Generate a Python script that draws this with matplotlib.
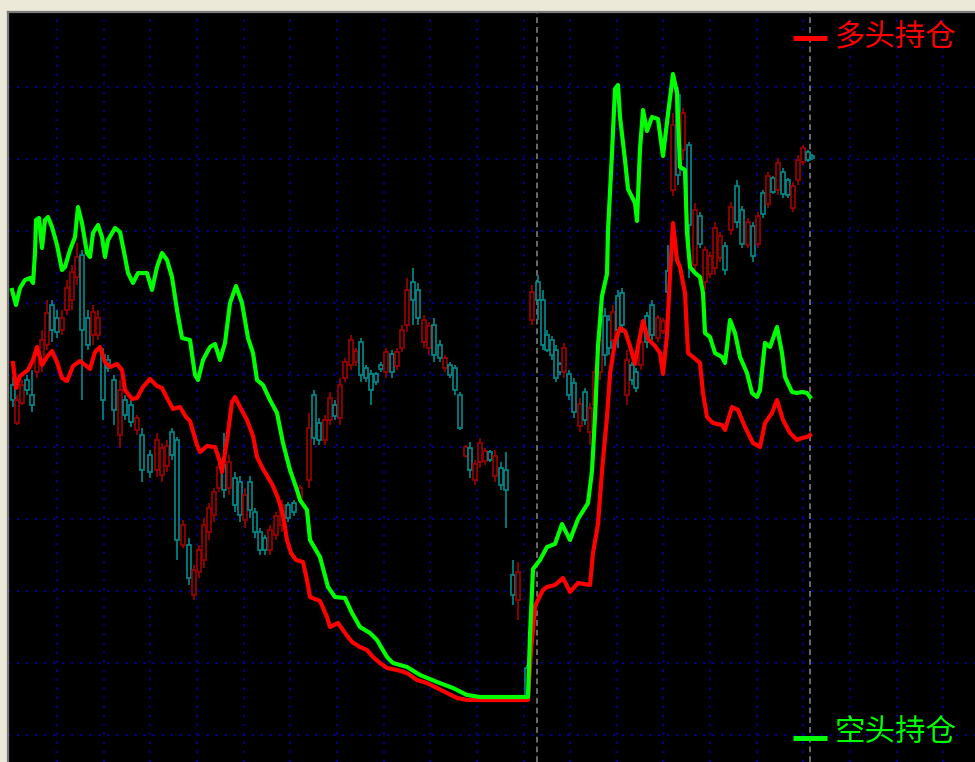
import numpy as np
import matplotlib
matplotlib.use('Agg')
import matplotlib.pyplot as plt
from matplotlib.patches import Rectangle

# values (time axis / value axis with the top at small numbers)
green_t = [12,16,20,25,30,33,35,36,39,42,45,48,52,57,62,65,70,75,78,82,87,90,93,98,102,105,108,115,120,125,128,133,138,147,152,157,162,167,172,177,182,190,195,198,203,210,215,220,225,230,236,242,248,253,257,263,270,277,283,290,297,300,307,310,320,328,335,345,352,360,370,377,387,393,407,420,437,453,467,480,528,530,533,540,547,555,562,570,578,588,592,595,598,602,607,608,612,615,618,620,625,628,635,637,640,643,647,652,658,663,668,673,677,680,685,687,690,695,700,703,705,710,715,722,725,727,730,735,740,747,752,757,760,765,770,777,782,785,792,797,802,807,810]
green_v = [290,305,288,280,278,283,253,220,218,248,220,217,227,245,270,267,250,237,207,223,253,257,233,225,237,257,240,228,232,257,273,283,273,273,290,267,253,260,277,310,338,340,375,380,360,347,344,360,343,303,286,303,338,353,380,385,400,413,443,470,490,500,510,540,557,587,597,598,613,627,633,640,657,663,667,675,682,688,695,697,697,635,569,560,547,544,524,540,519,503,471,417,346,296,274,231,153,89,85,117,160,189,203,221,149,110,131,117,119,156,114,74,93,167,170,233,267,273,277,293,333,337,353,357,363,347,320,333,357,373,393,397,390,343,347,327,353,377,392,393,392,393,397]

red_t = [13,16,20,28,33,37,42,47,52,57,62,67,73,80,85,90,95,100,105,110,117,122,125,132,137,143,150,157,162,167,173,180,186,190,197,200,207,215,220,222,227,232,235,240,247,253,257,263,272,278,283,287,291,296,303,307,310,320,327,330,338,345,352,360,367,373,380,387,397,407,417,427,437,447,457,467,480,528,531,535,543,547,555,563,570,578,590,593,598,602,607,610,615,620,625,630,635,638,643,648,655,660,663,667,670,673,677,680,685,688,693,700,703,707,713,722,725,732,738,745,753,760,765,772,777,783,790,797,802,807,810]
red_v = [363,388,376,370,360,347,365,357,351,362,378,381,366,361,365,369,352,347,362,367,364,370,390,399,398,387,379,386,388,398,409,407,417,421,445,452,446,447,462,472,440,402,397,407,420,436,457,469,484,498,515,540,553,560,562,580,597,601,617,627,623,633,642,647,650,657,663,668,670,673,680,683,688,693,698,700,700,700,650,606,590,587,585,578,592,583,585,553,524,471,417,374,342,328,331,346,364,346,321,339,346,353,374,335,275,223,260,267,293,353,357,363,393,417,423,425,430,407,410,427,443,447,423,413,400,420,433,440,438,437,435]

cand_t = [13,17,22,27,32,37,42,47,52,57,62,67,72,77,82,88,93,98,103,108,114,120,125,131,137,142,150,157,162,167,172,177,183,189,194,199,204,209,214,219,224,229,235,240,245,250,255,260,265,270,276,282,288,294,300,309,314,319,325,330,335,340,345,351,356,361,366,371,376,381,386,392,397,402,407,413,418,424,429,434,440,445,450,455,460,466,470,475,480,485,490,495,501,506,513,518,527,532,538,543,547,552,556,560,564,569,574,580,585,590,595,600,605,609,613,618,622,627,632,636,641,647,652,658,663,668,673,678,683,689,695,700,705,710,715,720,725,731,737,742,748,753,758,763,768,773,778,783,788,793,798,803,808,812]
cand_o = [385,423,403,380,395,372,365,345,305,318,330,310,300,277,255,318,335,335,355,360,380,435,400,405,430,435,455,470,475,466,432,440,545,545,595,572,560,532,515,488,465,488,478,482,520,482,512,532,538,550,535,525,505,503,498,480,395,423,440,420,405,418,378,365,362,342,368,374,374,365,372,354,366,348,325,282,290,342,348,325,345,368,365,368,395,456,448,480,462,461,452,476,468,470,575,600,668,320,282,300,335,340,350,364,372,374,383,426,392,432,405,372,316,320,340,296,293,395,365,372,365,316,305,338,331,271,190,95,150,145,265,216,282,274,268,258,246,230,186,210,245,226,244,193,204,178,190,172,180,208,180,162,152,156]
cand_c = [400,400,385,390,405,352,340,313,330,332,318,288,272,257,330,345,312,318,400,368,410,390,415,422,418,470,472,440,448,446,455,540,525,578,570,550,525,508,492,467,490,462,505,515,495,510,532,550,550,530,516,505,518,512,488,428,438,440,420,398,416,385,362,340,351,375,378,390,382,369,352,372,352,330,290,300,318,320,326,355,358,358,375,390,428,447,470,464,443,451,460,456,485,490,595,572,698,292,300,345,350,355,378,372,348,395,412,404,420,408,372,340,355,348,312,330,325,360,380,388,342,342,335,318,321,292,125,175,113,225,210,244,250,256,228,236,270,207,222,244,222,256,216,214,176,192,163,194,195,186,160,148,160,158]
cand_h = [377,395,380,375,370,345,330,300,300,310,310,280,265,243,250,310,305,310,348,355,375,380,395,400,415,428,450,433,443,440,428,437,520,538,565,545,518,503,488,462,433,455,472,476,488,476,508,528,535,525,512,500,502,500,485,413,390,418,415,392,400,378,358,335,348,338,365,370,372,362,348,350,348,325,278,268,283,315,322,318,340,355,362,365,392,445,442,460,438,448,450,450,462,452,560,562,665,285,275,290,330,336,345,362,343,370,378,398,388,403,365,330,308,315,305,290,288,350,362,368,336,312,300,315,318,245,113,87,108,142,203,212,246,252,222,232,242,202,180,206,218,222,212,190,172,176,158,168,178,182,155,145,150,154]
cand_l = [407,425,405,395,412,378,372,350,342,338,335,315,310,285,400,350,345,340,420,372,425,448,420,427,435,482,478,477,482,472,460,560,548,585,600,578,568,540,522,492,498,495,512,522,528,518,538,555,555,555,540,532,522,516,502,488,445,445,445,425,420,425,382,370,366,382,382,405,385,372,378,378,370,352,332,325,325,348,355,362,362,372,378,395,430,458,478,485,468,465,462,482,490,528,605,620,702,325,320,350,352,360,382,375,378,400,418,432,425,445,412,380,366,355,348,348,333,405,385,392,370,348,340,342,334,296,196,185,160,278,275,248,290,278,275,262,275,235,228,248,248,262,248,218,208,194,195,198,198,212,185,165,162,160]

day_breaks = [537, 810]
legend_names = ['多头持仓', '空头持仓']

assert len(green_t) == len(green_v), (len(green_t), len(green_v))
assert len(red_t) == len(red_v), (len(red_t), len(red_v))
assert len(cand_t) == len(cand_o) == len(cand_c) == len(cand_h) == len(cand_l), \
    (len(cand_t), len(cand_o), len(cand_c), len(cand_h), len(cand_l))

plt.rcParams['font.family'] = ['Noto Sans CJK SC', 'DejaVu Sans']

fig = plt.figure(figsize=(9.75, 7.62), dpi=100, facecolor='#ECE9D8')
ax = fig.add_axes([8/975, 0, 967/975, 750/762])
ax.set_facecolor('black')
ax.set_xlim(8, 975)
ax.set_ylim(762, 12)

# dotted blue grid
ax.set_xticks(np.arange(57, 975, 46.65))
ax.set_yticks(np.arange(87, 762, 72))
ax.tick_params(length=0, labelbottom=False, labelleft=False)
ax.grid(color='#0000A0', ls=(0, (1.2, 3.8)), lw=1.3)
ax.set_axisbelow(True)

for s in ['right', 'bottom']:
    ax.spines[s].set_visible(False)
for s in ['top', 'left']:
    ax.spines[s].set_color('#7A7A7A')
    ax.spines[s].set_linewidth(1.6)

for b in day_breaks:
    ax.axvline(b, color='#6A6A6A', ls=(0, (3, 2)), lw=1.4, zorder=1)

# candles (hollow bodies)
for t, o, c, h, l in zip(cand_t, cand_o, cand_c, cand_h, cand_l):
    col = '#A00000' if c < o else '#008C8C'
    top, bot = min(o, c), max(o, c)
    ax.vlines(t, h, top, color=col, lw=1.2, zorder=2)
    ax.vlines(t, bot, l, color=col, lw=1.2, zorder=2)
    ax.add_patch(Rectangle((t - 1.8, top), 3.6, max(bot - top, 1), facecolor='black',
                           edgecolor=col, lw=1.2, zorder=2))

ax.plot(red_t, red_v, color='#FF0000', lw=3.0, zorder=3)
ax.plot(green_t, green_v, color='#00FF00', lw=3.0, zorder=4)

# legend marks
ax.plot([0.8118, 0.847], [0.9653, 0.9653], transform=ax.transAxes, color='#FF0000',
        lw=3.6, solid_capstyle='butt', zorder=5)
ax.text(0.855, 0.9653, legend_names[0], transform=ax.transAxes, color='#FF0000',
        fontsize=22, va='center', ha='left', zorder=5)
ax.plot([0.8118, 0.847], [0.032, 0.032], transform=ax.transAxes, color='#00FF00',
        lw=3.6, solid_capstyle='butt', zorder=5)
ax.text(0.855, 0.0387, legend_names[1], transform=ax.transAxes, color='#00FF00',
        fontsize=22, va='center', ha='left', zorder=5)

fig.savefig('out.png', dpi=100, facecolor=fig.get_facecolor())
